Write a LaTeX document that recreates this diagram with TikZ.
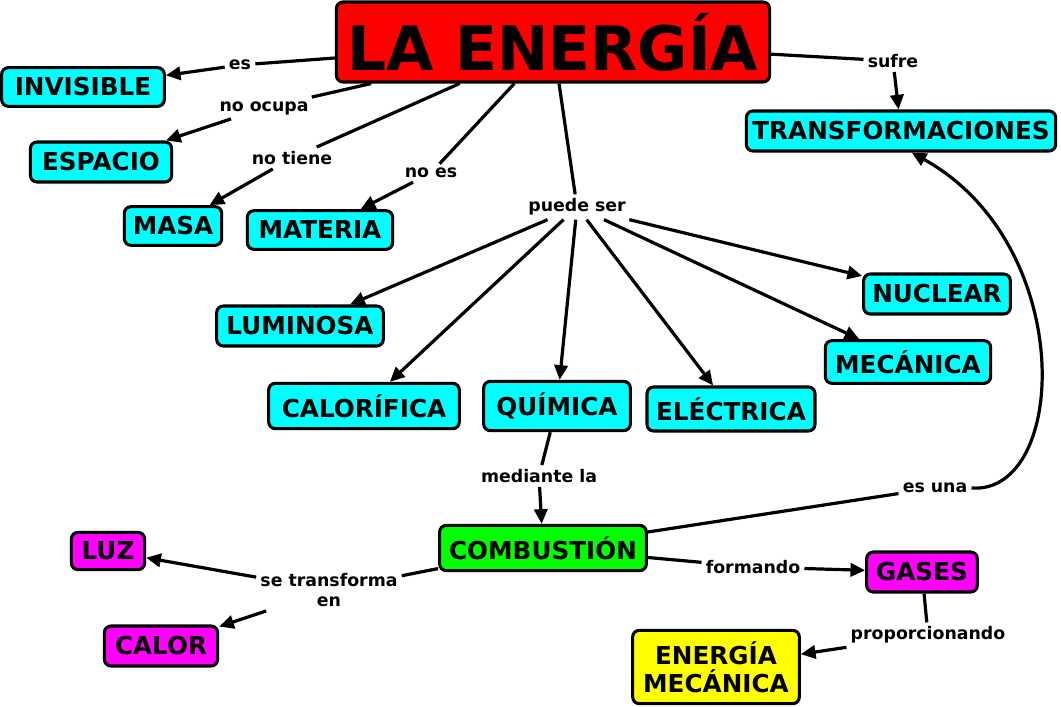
\documentclass[tikz,border=0pt]{standalone}
\usepackage{fontspec}
\setmainfont{DejaVu Sans}
\usetikzlibrary{arrows.meta}
\definecolor{cian}{RGB}{0,255,255}
\definecolor{rojo}{RGB}{255,0,0}
\definecolor{verde}{RGB}{0,255,0}
\definecolor{magenta}{RGB}{255,0,255}
\definecolor{amarillo}{RGB}{255,255,0}

\begin{document}
\begin{tikzpicture}[x=0.75pt, y=-0.75pt,
    concept/.style={draw, line width=2.3pt, rounded corners=5pt, inner sep=2pt, align=center, font=\bfseries\fontsize{18.5}{21}\selectfont},
    idea/.style={concept, fill=cian},
    link/.style={inner sep=3pt, align=center, font=\bfseries\fontsize{13}{15}\selectfont},
    conn/.style={line width=2.4pt},
    arr/.style={conn, -{Triangle[length=11pt,width=10pt]}}]
    \useasboundingbox (0,0) rectangle (1061,707);
    % concepts
    \node[concept, fill=rojo, minimum width=325pt, minimum height=60pt, font=\bfseries\fontsize{46}{50}\selectfont] (energia) at (553,42) {LA ENERGÍA};
    \node[idea, minimum width=122pt, minimum height=29pt] (invisible) at (83,87) {INVISIBLE};
    \node[idea, minimum width=106pt, minimum height=30pt] (espacio) at (101,162) {ESPACIO};
    \node[idea, minimum width=73pt, minimum height=29pt] (masa) at (173,226) {MASA};
    \node[idea, minimum width=109pt, minimum height=29pt] (materia) at (320,230) {MATERIA};
    \node[idea, minimum width=232pt, minimum height=30pt] (transf) at (901,131) {TRANSFORMACIONES};
    \node[idea, minimum width=125pt, minimum height=30pt] (luminosa) at (300,326) {LUMINOSA};
    \node[idea, minimum width=110pt, minimum height=30pt] (nuclear) at (937,294) {NUCLEAR};
    \node[idea, minimum width=124pt, minimum height=32pt] (mecanica) at (908,362) {MECÁNICA};
    \node[idea, minimum width=143pt, minimum height=34pt] (calorifica) at (364,406) {CALORÍFICA};
    \node[idea, minimum width=110pt, minimum height=37pt] (quimica) at (557,406) {QUÍMICA};
    \node[idea, minimum width=126pt, minimum height=33pt] (electrica) at (731,409) {ELÉCTRICA};
    \node[concept, fill=verde, minimum width=155pt, minimum height=34pt] (combustion) at (543,548) {COMBUSTIÓN};
    \node[concept, fill=magenta, minimum width=55pt, minimum height=28pt] (luz) at (108,551) {LUZ};
    \node[concept, fill=magenta, minimum width=85pt, minimum height=30pt] (calor) at (161,646) {CALOR};
    \node[concept, fill=magenta, minimum width=83pt, minimum height=30pt] (gases) at (922,572) {GASES};
    \node[concept, fill=amarillo, minimum width=125pt, minimum height=55pt] (energiamec) at (716,667) {ENERGÍA\\MECÁNICA};
    % linking words
    \node[link] (l_es) at (240,65) {es};
    \node[link] (l_noocupa) at (264,108) {no ocupa};
    \node[link] (l_notiene) at (292,158) {no tiene};
    \node[link] (l_noes) at (431,173) {no es};
    \node[link] (l_puede) at (577,207) {puede ser};
    \node[link] (l_sufre) at (893,61) {sufre};
    \node[link] (l_mediante) at (539,476) {mediante la};
    \node[link] (l_esuna) at (935,488) {es una};
    \node[link] (l_setrans) at (329,590) {se transforma\\en};
    \node[link] (l_formando) at (753,567) {formando};
    \node[link] (l_proporc) at (928,635) {proporcionando};
    % connectors
    \draw[conn] (energia) -- (l_es);
    \draw[arr] (l_es) -- (invisible);
    \draw[conn] (energia) -- (l_noocupa);
    \draw[arr] (l_noocupa) -- (espacio);
    \draw[conn] (energia) -- (l_notiene);
    \draw[arr] (l_notiene) -- (masa);
    \draw[conn] (energia) -- (l_noes);
    \draw[arr] (l_noes) -- (materia);
    \draw[conn] (energia) -- (l_sufre);
    \draw[arr] (l_sufre) -- (transf);
    \draw[conn] (energia) -- (l_puede);
    \foreach \kind in {luminosa, calorifica, quimica, electrica, mecanica, nuclear}
        \draw[arr] (l_puede) -- (\kind);
    \draw[conn] (quimica) -- (l_mediante);
    \draw[arr] (l_mediante) -- (combustion);
    \draw[conn] (combustion) -- (l_esuna);
    \draw[arr] (l_esuna.east) .. controls (1068,495) and (1078,245) .. ([xshift=8pt]transf.south);
    \draw[conn] (combustion) -- (l_setrans);
    \draw[arr] (l_setrans) -- (luz);
    \draw[arr] (l_setrans) -- (calor);
    \draw[conn] (combustion) -- (l_formando);
    \draw[arr] (l_formando) -- (gases);
    \draw[conn] (gases) -- (l_proporc);
    \draw[arr] (l_proporc) -- (energiamec);
\end{tikzpicture}
\end{document}
